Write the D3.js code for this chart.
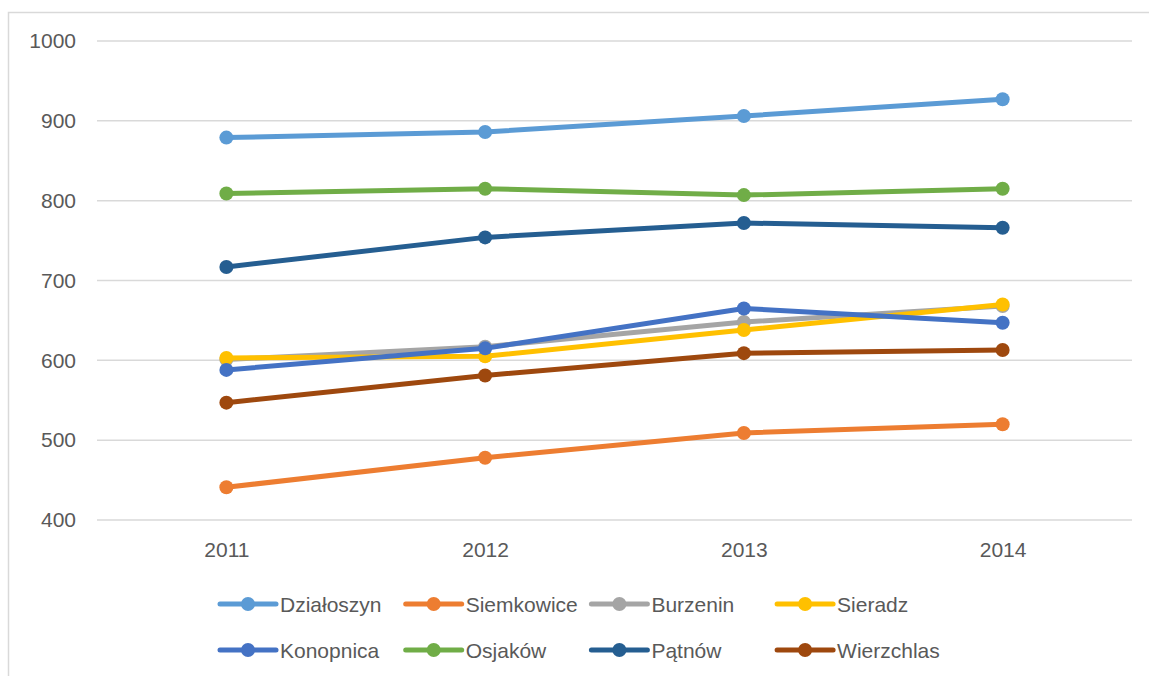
<!DOCTYPE html>
<html>
<head>
<meta charset="utf-8">
<script src="https://cdn.jsdelivr.net/npm/d3@7"></script>
<style>
  body { margin: 0; background: #fff; }
  svg { display: block; font-family: "Liberation Sans", Arial, sans-serif; }
</style>
</head>
<body>
<svg id="chart" width="1149" height="676"></svg>
<script>
const years = ["2011", "2012", "2013", "2014"];
const seriesNames = ["Działoszyn", "Siemkowice", "Burzenin", "Sieradz", "Konopnica", "Osjaków", "Pątnów", "Wierzchlas"];
const seriesColors = ["#5b9bd5", "#ed7d31", "#a5a5a5", "#ffc000", "#4472c4", "#70ad47", "#255e91", "#9e480e"];
const dzialoszyn = [879, 886, 906, 927];
const siemkowice = [441, 478, 509, 520];
const burzenin = [601, 617, 648, 668];
const sieradz = [603, 605, 638, 670];
const konopnica = [588, 615, 665, 647];
const osjakow = [809, 815, 807, 815];
const patnow = [717, 754, 772, 766];
const wierzchlas = [547, 581, 609, 613];
const yTicks = [400, 500, 600, 700, 800, 900, 1000];

const allValues = [dzialoszyn, siemkowice, burzenin, sieradz, konopnica, osjakow, patnow, wierzchlas];
const series = seriesNames.map((name, i) => ({ name, color: seriesColors[i], values: allValues[i] }));

const svg = d3.select("#chart");
const textColor = "#595959";

// chart border (cut off on the right and bottom)
svg.append("rect")
    .attr("x", 8.5).attr("y", 12.5)
    .attr("width", 1200).attr("height", 800)
    .attr("fill", "none").attr("stroke", "#d9d9d9").attr("stroke-width", 1.5);

const x = d3.scalePoint().domain(years).range([97, 1132]).padding(0.5);
const y = d3.scaleLinear().domain([400, 1000]).range([520, 41]);

// gridlines
svg.append("g")
    .selectAll("line")
    .data(yTicks)
    .enter().append("line")
    .attr("x1", 97).attr("x2", 1132)
    .attr("y1", d => y(d)).attr("y2", d => y(d))
    .attr("stroke", "#d9d9d9").attr("stroke-width", 1.5);

// y axis labels
const yAxis = svg.append("g")
    .attr("transform", "translate(86,0)")
    .call(d3.axisLeft(y).tickValues(yTicks).tickSize(0).tickPadding(10).tickFormat(d3.format("d")));
yAxis.select(".domain").remove();
yAxis.selectAll("text").attr("fill", textColor).attr("font-size", 21)
    .attr("font-family", "Liberation Sans, Arial, sans-serif");

// x axis labels
const xAxis = svg.append("g")
    .attr("transform", "translate(0,520)")
    .call(d3.axisBottom(x).tickSize(0).tickPadding(22));
xAxis.select(".domain").remove();
xAxis.selectAll("text").attr("fill", textColor).attr("font-size", 21)
    .attr("font-family", "Liberation Sans, Arial, sans-serif");

const line = d3.line().x((d, i) => x(years[i])).y(d => y(d));

const seriesG = svg.append("g")
    .selectAll("g")
    .data(series)
    .enter().append("g");

seriesG.append("path")
    .attr("d", d => line(d.values))
    .attr("fill", "none")
    .attr("stroke", d => d.color)
    .attr("stroke-width", 5)
    .attr("stroke-linejoin", "round")
    .attr("stroke-linecap", "round");

seriesG.selectAll("circle")
    .data(d => d.values.map((v, i) => ({ v, year: years[i], color: d.color })))
    .enter().append("circle")
    .attr("cx", d => x(d.year))
    .attr("cy", d => y(d.v))
    .attr("r", 7)
    .attr("fill", d => d.color);

// legend, 4 columns x 2 rows
const legendX = 220, legendColW = 185.7, legendRows = [604, 650];
const legend = svg.append("g")
    .selectAll("g")
    .data(series)
    .enter().append("g")
    .attr("transform", (d, i) => `translate(${legendX + (i % 4) * legendColW},${legendRows[Math.floor(i / 4)]})`);

legend.append("line")
    .attr("x1", 0).attr("x2", 56).attr("y1", 0).attr("y2", 0)
    .attr("stroke", d => d.color).attr("stroke-width", 5).attr("stroke-linecap", "round");
legend.append("circle")
    .attr("cx", 28).attr("cy", 0).attr("r", 7)
    .attr("fill", d => d.color);
legend.append("text")
    .attr("x", 60).attr("y", 0).attr("dy", "0.36em")
    .attr("fill", textColor).attr("font-size", 21)
    .text(d => d.name);
</script>
</body>
</html>
